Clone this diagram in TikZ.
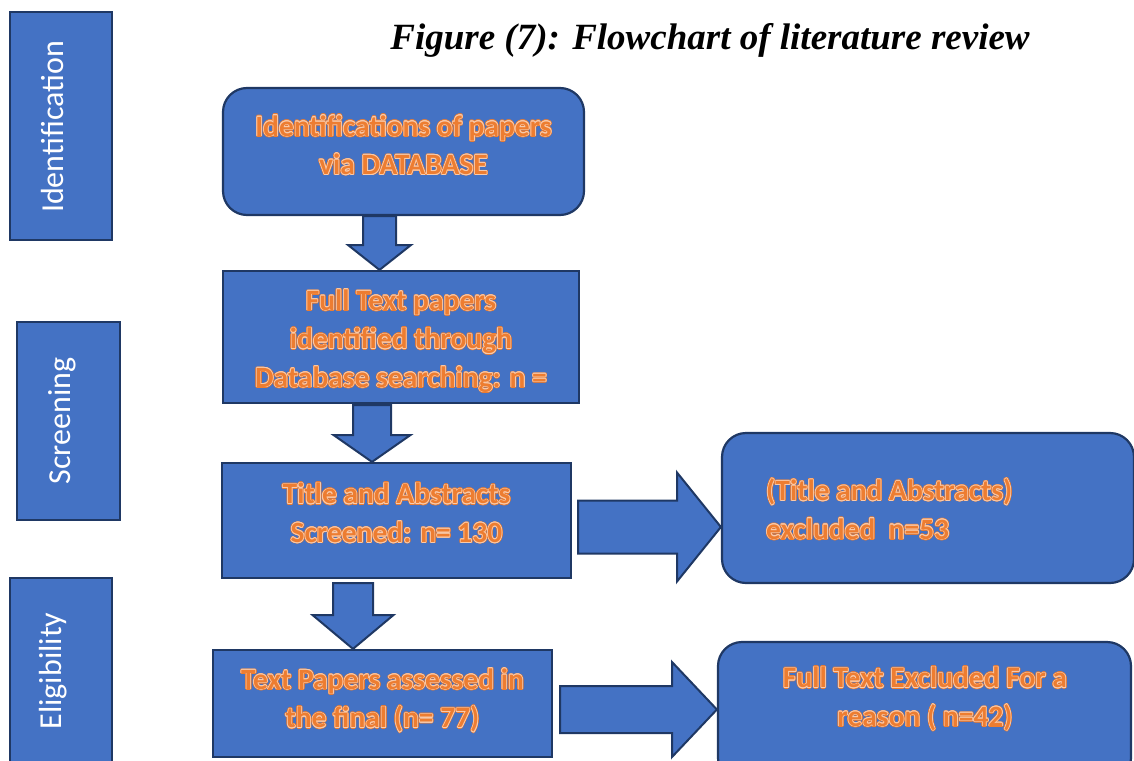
\documentclass[tikz,border=0pt]{standalone}
\usepackage{fontspec}
\setmainfont{Carlito}
\newfontfamily\titlefont{Liberation Serif}
\usetikzlibrary{calc}

\definecolor{boxblue}{HTML}{4472C4}
\definecolor{boxedge}{HTML}{1F3864}
\definecolor{txtor}{HTML}{ED7D31}
\definecolor{txtpale}{HTML}{F8CBAD}

% ring of offset copies of a text, used to build the outlined label look
\newcommand\ringtxt[3]{%
  \foreach \ang in {0,30,...,330}{%
    \pgfmathsetlengthmacro\rdx{#1*cos(\ang)}%
    \pgfmathsetlengthmacro\rdy{#1*sin(\ang)}%
    \rlap{\kern\rdx\raisebox{\rdy}{\textcolor{#2}{#3}}}}}
% orange label with a thin pale outline
\newcommand\otxt[1]{\leavevmode\ringtxt{1.2pt}{txtor}{#1}\ringtxt{0.6pt}{txtpale}{#1}\textcolor{txtor}{#1}}

\tikzset{
  shapefill/.style={fill=boxblue, draw=boxedge, line width=2.2pt},
  stepbox/.style={shapefill, rectangle, inner sep=0pt},
  roundbox/.style={stepbox, rounded corners=24pt},
  steptext/.style={align=center, inner sep=0pt,
    font=\fontsize{29.5}{38.5}\selectfont\bfseries},
  stagebox/.style={shapefill, line width=2.6pt, rectangle, inner sep=0pt},
  stagetext/.style={inner sep=0pt, text=white, rotate=90,
    font=\fontsize{32}{34}\selectfont},
  blockarrow/.style={shapefill, line width=2pt, line join=miter},
}

\begin{document}
\begin{tikzpicture}[x=1pt,y=-1pt]
\useasboundingbox (0,0) rectangle (1134,760);
\clip (0,0) rectangle (1134,760);

% stage labels down the left side
\node[stagebox, minimum width=102, minimum height=228] (sid) at (61,126) {};
\node[stagetext] (sidt) at (53,127) {Identification};
\node[stagebox, minimum width=103, minimum height=198] (sscr) at (68.5,421) {};
\node[stagetext] (sscrt) at (62,421) {Screening};
\node[stagebox, minimum width=102, minimum height=200] (selig) at (61,678) {};
\node[stagetext] (seligt) at (53,671) {Eligibility};

% title
\node[font=\titlefont\fontsize{37}{40}\selectfont\bfseries\itshape, anchor=base,
  inner sep=0pt] (title)
  at (710,49) {Figure (7): Flowchart of literature review};

% main column
\node[roundbox, minimum width=361, minimum height=127] (b1) at (403.5,151.5) {};
\node[steptext] (b1t) at (403.5,145)
  {\otxt{Identifications of papers}\\\otxt{via DATABASE}};
\node[stepbox, minimum width=356, minimum height=132] (b2) at (401,337) {};
\node[steptext] (b2t) at (401,341)
  {\otxt{Full Text papers}\\\otxt{identified through}\\\otxt{Database searching: n =}};
\node[stepbox, minimum width=349, minimum height=115] (b3) at (396.5,520.5) {};
\node[steptext] (b3t) at (396.5,513)
  {\otxt{Title and Abstracts}\\\otxt{Screened: n= 130}};
\node[stepbox, minimum width=339, minimum height=107] (b4) at (382.5,703.5) {};
\node[steptext] (b4t) at (382.5,700.5)
  {\otxt{Text Papers assessed in}\\\otxt{the final (n= 77)}};

% exclusion boxes
\node[roundbox, minimum width=412, minimum height=150] (b5) at (928,508) {};
\node[steptext, align=left, anchor=west] (b5t) at (766,509)
  {\otxt{(Title and Abstracts)}\\\otxt{excluded\ \ n=53}};
\node[roundbox, minimum width=413, minimum height=140] (b6) at (924.5,712) {};
\node[steptext] (b6t) at (925,699)
  {\otxt{Full Text Excluded For a}\\\otxt{reason ( n=42)}};

% downward block arrows
\coordinate (a1) at (379.5,0);
\draw[blockarrow] ($(b1.south -| a1)+(-16.5,0)$) -- ($(b1.south -| a1)+(16.5,0)$)
  -- ($(a1 |- 0,245)+(16.5,0)$) -- ($(a1 |- 0,245)+(31.5,0)$)
  -- (b2.north -| a1) -- ($(a1 |- 0,245)+(-31.5,0)$)
  -- ($(a1 |- 0,245)+(-16.5,0)$) -- cycle;

\coordinate (a2) at (372,0);
\draw[blockarrow] ($(b2.south -| a2)+(-19,1)$) -- ($(b2.south -| a2)+(19,1)$)
  -- ($(a2 |- 0,435)+(19,0)$) -- ($(a2 |- 0,435)+(38.5,0)$)
  -- (b3.north -| a2) -- ($(a2 |- 0,435)+(-38.5,0)$)
  -- ($(a2 |- 0,435)+(-19,0)$) -- cycle;

\coordinate (a3) at (353,0);
\draw[blockarrow] ($(b3.south -| a3)+(-20,4)$) -- ($(b3.south -| a3)+(20,4)$)
  -- ($(a3 |- 0,615)+(20,0)$) -- ($(a3 |- 0,615)+(40.5,0)$)
  -- (b4.north -| a3) -- ($(a3 |- 0,615)+(-40.5,0)$)
  -- ($(a3 |- 0,615)+(-20,0)$) -- cycle;

% rightward block arrows
\coordinate (r1) at (0,527);
\draw[blockarrow] ($(b3.east |- r1)+(6,-26.5)$) -- ($(677,0 |- r1)+(0,-26.5)$)
  -- ($(677,0 |- r1)+(0,-54.5)$) -- (b5.west |- r1)
  -- ($(677,0 |- r1)+(0,54.5)$) -- ($(677,0 |- r1)+(0,26.5)$)
  -- ($(b3.east |- r1)+(6,26.5)$) -- cycle;

\coordinate (r2) at (0,709.5);
\draw[blockarrow] ($(b4.east |- r2)+(7,-23.5)$) -- ($(672,0 |- r2)+(0,-23.5)$)
  -- ($(672,0 |- r2)+(0,-47.5)$) -- (b6.west |- r2)
  -- ($(672,0 |- r2)+(0,47.5)$) -- ($(672,0 |- r2)+(0,23.5)$)
  -- ($(b4.east |- r2)+(7,23.5)$) -- cycle;
\end{tikzpicture}
\end{document}
